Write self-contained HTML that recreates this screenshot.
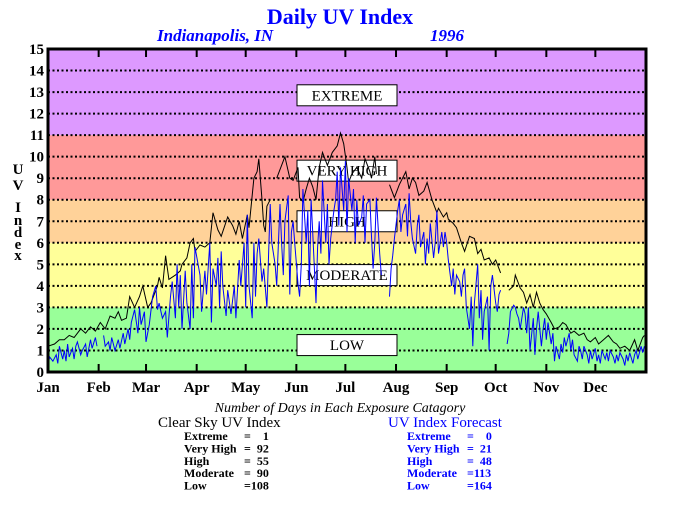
<!DOCTYPE html>
<html><head><meta charset="utf-8"><style>
body{margin:0;background:#fff;}
svg text{font-family:"Liberation Serif",serif;}
#stats text{white-space:pre;}
</style></head><body>
<svg id="chart" width="680" height="500" xmlns="http://www.w3.org/2000/svg">
<text x="340" y="24" text-anchor="middle" font-size="22" font-weight="bold" fill="#0000ff">Daily UV Index</text>
<text x="157" y="41" font-size="17" font-weight="bold" font-style="italic" fill="#0000ff">Indianapolis, IN</text>
<text x="430" y="41" font-size="17" font-weight="bold" font-style="italic" fill="#0000ff">1996</text>
<g id="bands"></g>
<g id="grid"></g>
<g id="boxes"></g>
<g id="series"></g>
<g id="axes"></g>
<g font-size="15" font-weight="bold" text-anchor="middle">
<text x="18" y="174">U</text><text x="18" y="190">V</text><text x="18" y="212">I</text><text x="18" y="225">n</text><text x="18" y="237">d</text><text x="18" y="249">e</text><text x="18" y="260">x</text>
</g>
<text x="340" y="412" text-anchor="middle" font-size="14" font-style="italic">Number of Days in Each Exposure Catagory</text>
<text x="158" y="427" font-size="15">Clear Sky UV Index</text>
<text x="388" y="427" font-size="15" fill="#0000ff">UV Index Forecast</text>
<g id="stats" font-size="12" font-weight="bold"></g>
</svg>
<script>
const yTicks=[0,1,2,3,4,5,6,7,8,9,10,11,12,13,14,15];
const months=["Jan","Feb","Mar","Apr","May","Jun","Jul","Aug","Sep","Oct","Nov","Dec"];
const monthStartDays=[0,31,60,91,121,152,182,213,244,274,305,335];
const bandLow=[0,3,6,8,11];
const bandHigh=[3,6,8,11,15];
const bandNames=["LOW","MODERATE","HIGH","VERY HIGH","EXTREME"];
const bandLabelValues=[1.25,4.5,7,9.35,12.85];
const clearDays=[0,4,7,10,13,16,20,23,26,29,32,35,38,41,43,45,48,50,53,56,58,61,63,67,68,70,72,74,78,81,82,85,87,89,90,93,96,99,101,104,106,110,113,115,117,119,122,123,126,128,129,131,132,133,134,136,null,140,145,148,150,153,154,156,158,160,162,164,166,168,171,174,177,179,181,183,184,186,189,192,194,197,198,200,201,null,209,212,215,219,221,223,225,227,230,232,235,238,239,242,244,245,248,250,253,255,258,261,263,265,267,270,272,274,277,null,282,285,286,289,291,293,295,297,299,301,303,305,308,310,313,315,317,320,322,325,328,330,332,335,337,340,343,346,348,350,353,356,359,361,364,365];
const clearVals=[1.2,1.3,1.5,1.5,1.7,1.6,2.0,1.8,2.1,1.9,2.3,2.0,2.6,2.5,2.8,2.4,2.5,3.5,3.0,3.5,4.0,3.0,3.2,4.0,4.4,3.9,5.4,4.3,4.5,4.7,5.0,5.3,6.0,6.2,5.6,5.9,5.8,6.0,7.4,6.6,6.3,7.2,6.8,6.4,7.0,6.2,7.3,6.7,9.0,9.3,9.9,8.0,6.8,6.5,7.7,8.0,null,9.0,10.0,9.0,8.9,9.5,8.1,7.9,8.5,9.0,8.6,8.0,9.5,10.2,9.6,10.2,10.5,11.1,10.6,9.5,8.8,9.2,9.5,9.0,9.9,9.3,9.0,10.0,9.2,null,8.7,8.1,8.7,9.3,8.5,9.0,8.8,8.2,8.4,8.8,8.0,7.4,7.6,7.2,7.4,7.1,6.9,6.7,6.0,5.6,6.3,6.2,5.5,5.7,5.2,5.3,5.0,5.2,4.6,null,3.8,4.0,4.5,3.9,3.7,3.2,3.6,3.0,3.7,3.2,2.9,2.7,2.3,2.0,2.1,2.3,2.2,1.8,1.9,1.7,1.8,1.5,1.4,1.6,1.3,1.5,1.7,1.4,1.3,1.1,1.2,1.0,1.5,1.0,1.6,1.7];
const fcDays=[0,1,3,5,6,7,9,10,11,12,13,15,16,17,18,20,21,23,24,26,27,29,30,null,34,35,37,38,39,41,43,44,46,47,49,50,51,53,55,56,57,59,60,62,64,66,67,68,70,72,73,75,76,78,79,80,81,82,84,85,87,88,89,90,93,94,96,97,99,100,101,103,104,105,106,107,109,110,112,114,115,117,118,120,121,122,123,125,126,127,128,129,131,132,134,136,137,139,140,142,143,144,145,147,148,149,150,151,153,154,155,156,158,159,160,161,162,164,165,166,167,168,170,171,172,173,175,176,177,178,179,181,182,183,184,186,187,188,189,190,192,193,194,195,197,198,199,200,201,203,204,null,209,210,211,212,214,215,216,217,219,220,221,222,223,225,226,227,228,230,231,232,233,234,236,237,238,239,241,242,243,244,245,247,248,249,250,252,253,254,255,256,258,259,260,261,263,264,265,266,267,269,270,271,272,274,275,276,277,null,281,282,283,285,286,287,288,289,291,292,293,294,295,297,298,299,300,302,303,304,305,306,308,309,310,311,313,314,315,316,317,319,320,321,322,324,325,326,327,328,330,331,332,333,335,336,337,338,339,341,342,343,344,346,347,348,349,350,352,353,354,355,356,358,359,360,361,363,364,365];
const fcVals=[0.3,0.7,0.5,0.8,0.4,1.2,0.6,1.0,0.5,1.3,0.7,1.1,0.6,1.2,1.4,0.8,1.0,1.3,0.7,1.5,1.1,1.6,1.2,null,1.7,1.2,1.4,1.0,1.6,1.0,1.5,1.1,1.8,1.3,2.0,1.5,2.3,2.9,1.8,3.0,2.2,2.8,1.4,2.2,3.5,4.0,2.9,3.2,2.5,2.8,1.6,3.5,4.2,2.5,5.0,3.0,4.5,2.0,4.7,3.2,2.0,5.0,2.5,5.8,4.5,2.8,4.7,3.6,6.0,2.3,4.8,4.0,5.3,3.0,5.6,4.0,2.6,3.8,2.7,4.0,2.5,5.2,4.0,6.0,3.0,7.3,4.0,2.5,6.0,3.5,5.5,6.2,4.2,4.8,3.0,7.8,6.0,5.0,4.0,7.8,6.0,4.5,7.0,8.2,3.6,6.5,7.0,6.0,4.1,3.5,5.0,8.5,6.0,7.5,4.0,8.0,6.5,3.2,5.8,7.0,5.5,8.9,6.0,7.8,5.0,6.2,7.5,8.0,9.3,6.8,9.5,7.5,9.8,6.5,9.0,7.5,8.5,6.0,8.0,6.8,7.2,8.2,6.0,7.8,8.0,6.3,4.8,6.0,8.1,5.5,4.5,null,3.5,4.8,5.4,6.2,7.5,8.0,6.5,7.3,7.8,6.3,8.3,7.0,6.2,5.5,6.8,7.3,5.8,6.5,5.0,6.2,5.5,6.9,5.3,6.0,7.5,5.5,6.5,5.8,6.5,6.0,5.2,4.0,4.8,3.6,4.5,4.2,3.5,4.5,4.8,3.0,2.0,3.5,1.2,3.2,5.0,2.5,3.8,1.5,2.8,3.5,1.0,4.0,4.5,3.2,2.8,3.6,3.8,null,1.3,1.8,2.8,3.1,3.0,2.7,2.5,2.0,3.0,2.7,1.8,3.0,1.0,2.5,0.8,2.0,2.8,1.2,2.0,2.5,1.5,2.3,1.3,1.8,0.5,1.2,0.6,1.3,0.9,1.6,1.2,1.8,1.0,1.5,0.8,0.5,1.2,1.0,0.6,1.2,0.8,0.4,1.0,0.6,1.1,0.5,0.8,0.4,1.0,0.6,0.9,0.5,1.0,0.7,0.4,0.8,0.5,0.9,0.6,0.3,0.8,0.5,0.9,0.4,0.8,1.0,0.6,1.2,0.9,1.2];
const clearStats=[["Extreme","=    1"],["Very High","=  92"],["High","=  55"],["Moderate","=  90"],["Low","=108"]];
const fcStats=[["Extreme","=    0"],["Very High","=  21"],["High","=  48"],["Moderate","=113"],["Low","=164"]];

const L=48,R=646,T=49,B=372,NDAYS=366;
const colors=["#99ff99","#ffff99","#ffd299","#ff9999","#dd99ff"];
const NS="http://www.w3.org/2000/svg";
function xs(d){return L+d*(R-L)/NDAYS;}
function ys(v){return B-v*(B-T)/15;}
function mk(tag,attrs,parent){const e=document.createElementNS(NS,tag);for(const k in attrs)e.setAttribute(k,attrs[k]);parent.appendChild(e);return e;}
const bands=document.getElementById('bands');
bandLow.forEach((lo,i)=>{const r=mk('rect',{x:L,y:ys(bandHigh[i]),width:R-L,height:ys(lo)-ys(bandHigh[i]),fill:colors[i]},bands);

});
const grid=document.getElementById('grid');
yTicks.forEach(v=>{if(v>0&&v<15){const l=mk('line',{x1:L,x2:R,y1:ys(v),y2:ys(v),stroke:'#000','stroke-width':2,'stroke-dasharray':'2 2.5'},grid);

}});
const boxes=document.getElementById('boxes');
bandNames.forEach((n,i)=>{const cy=ys(bandLabelValues[i]);const g=mk('g',{},boxes);


mk('rect',{x:297,y:cy-10.5,width:100,height:21,fill:'#fff',stroke:'#000','stroke-width':1},g);
const t=mk('text',{x:347,y:cy+5,'text-anchor':'middle','font-size':15},g);t.textContent=n;});
const series=document.getElementById('series');
function path(days,vals){let d='',pen=false;for(let i=0;i<days.length;i++){if(days[i]===null||vals[i]===null){pen=false;continue;}d+=(pen?'L':'M')+xs(days[i]).toFixed(1)+' '+ys(vals[i]).toFixed(1);pen=true;}return d;}
const p1=mk('path',{d:path(clearDays,clearVals),fill:'none',stroke:'#000','stroke-width':1},series);


const p2=mk('path',{d:path(fcDays,fcVals),fill:'none',stroke:'#0000ff','stroke-width':1},series);


const axes=document.getElementById('axes');
const fr=mk('rect',{x:L,y:T,width:R-L,height:B-T,fill:'none',stroke:'#000','stroke-width':3},axes);


yTicks.forEach(v=>{const t=mk('text',{x:44,y:ys(v)+5,'text-anchor':'end','font-size':15,'font-weight':'bold'},axes);t.textContent=v;

});
months.forEach((m,i)=>{const x=xs(monthStartDays[i]);
if(i>0){mk('line',{x1:x,x2:x,y1:T,y2:T+8,stroke:'#000','stroke-width':2},axes);mk('line',{x1:x,x2:x,y1:B-8,y2:B,stroke:'#000','stroke-width':2},axes);}
const t=mk('text',{x:x,y:392,'text-anchor':'middle','font-size':15,'font-weight':'bold'},axes);t.textContent=m;

});
const st=document.getElementById('stats');
function stats(arr,x1,x2,col,name){arr.forEach((r,i)=>{const y=440+i*12.4;
const a=mk('text',{x:x1,y:y,fill:col},st);a.textContent=r[0];


const b=mk('text',{x:x2,y:y,fill:col},st);b.textContent=r[1];

});}
stats(clearStats,184,244,'#000','clear-sky-stat');
stats(fcStats,407,467,'#0000ff','forecast-stat');
</script>
</body></html>
